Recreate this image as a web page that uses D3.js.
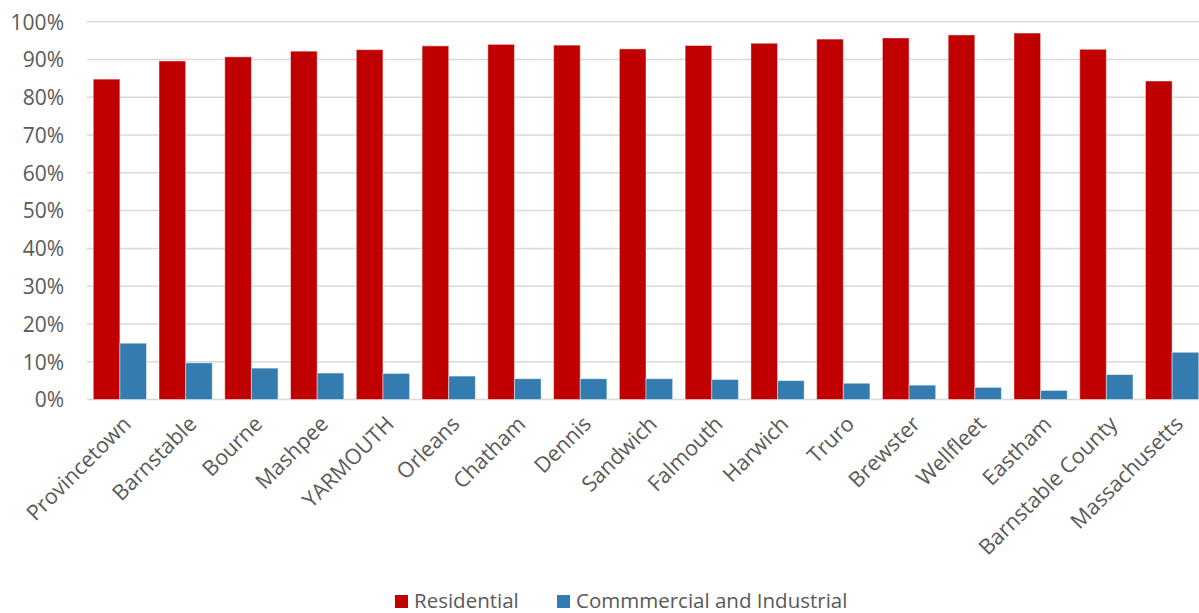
<!DOCTYPE html>
<html>
<head>
<meta charset="utf-8">
<script src="https://cdn.jsdelivr.net/npm/d3@7"></script>
<style>
  html, body { margin: 0; padding: 0; background: #fff; }
  svg { display: block; font-family: "Open Sans", "Noto Sans", sans-serif; }
</style>
</head>
<body>
<svg id="chart" width="1199" height="613"></svg>
<script>
// Share of assessed value by class, per town
const towns = ["Provincetown", "Barnstable", "Bourne", "Mashpee", "YARMOUTH", "Orleans",
  "Chatham", "Dennis", "Sandwich", "Falmouth", "Harwich", "Truro", "Brewster",
  "Wellfleet", "Eastham", "Barnstable County", "Massachusetts"];
const residential = [84.8, 89.6, 90.7, 92.2, 92.6, 93.6, 94.0, 93.8, 92.8, 93.7, 94.3, 95.4,
  95.7, 96.5, 97.0, 92.7, 84.3];
const commercial = [14.9, 9.7, 8.3, 7.0, 6.9, 6.2, 5.5, 5.5, 5.5, 5.3, 5.0, 4.3,
  3.8, 3.2, 2.4, 6.6, 12.5];
const seriesNames = ["Residential", "Commmercial and Industrial"];
const yTicks = [0, 10, 20, 30, 40, 50, 60, 70, 80, 90, 100];

const colors = ["#C00000", "#347BB0"];
const svg = d3.select("#chart");

const x = d3.scaleBand().domain(towns).range([87, 1205]).paddingInner(0.19).paddingOuter(0.095);
const xs = d3.scaleBand().domain([0, 1]).range([0, x.bandwidth()]);
const y = d3.scaleLinear().domain([0, 100]).range([399.5, 21.7]);

// horizontal gridlines
svg.append("g").selectAll("line").data(yTicks).join("line")
  .attr("x1", 87).attr("x2", 1199)
  .attr("y1", d => y(d)).attr("y2", d => y(d))
  .attr("stroke", "#d9d9d9").attr("stroke-width", 1.5);

// y axis labels
const yAxis = d3.axisLeft(y).tickValues(yTicks).tickFormat(d => d + "%").tickSize(0).tickPadding(0);
const yg = svg.append("g").attr("transform", "translate(64,0)").call(yAxis);
yg.select(".domain").remove();
yg.selectAll("text").attr("fill", "#595959").style("font-size", "21px")
  .style("font-family", "'Open Sans', sans-serif").attr("dy", "0.35em");

// bars
const series = [residential, commercial];
series.forEach((vals, si) => {
  svg.append("g").selectAll("rect").data(towns).join("rect")
    .attr("x", (d) => x(d) + xs(si))
    .attr("width", xs.bandwidth())
    .attr("y", (d, i) => y(vals[i]))
    .attr("height", (d, i) => y(0) - y(vals[i]))
    .attr("fill", colors[si])
    .attr("stroke", "rgba(255,255,255,0.45)").attr("stroke-width", 1);
});

// rotated category labels
svg.append("g").selectAll("text").data(towns).join("text")
  .attr("transform", d => `translate(${x(d) + x.bandwidth() / 2 + 7},${420}) rotate(-45)`)
  .attr("text-anchor", "end")
  .attr("dy", "0.35em")
  .attr("fill", "#595959")
  .style("font-size", "21.5px")
  .text(d => d);

// legend
const legend = svg.append("g");
const lx = [395, 557];
seriesNames.forEach((name, i) => {
  legend.append("rect").attr("x", lx[i]).attr("y", 595).attr("width", 13).attr("height", 13)
    .attr("fill", colors[i]);
  legend.append("text").attr("x", lx[i] + 19).attr("y", 608)
    .attr("fill", "#595959").style("font-size", "20.5px").text(name);
});
</script>
</body>
</html>
